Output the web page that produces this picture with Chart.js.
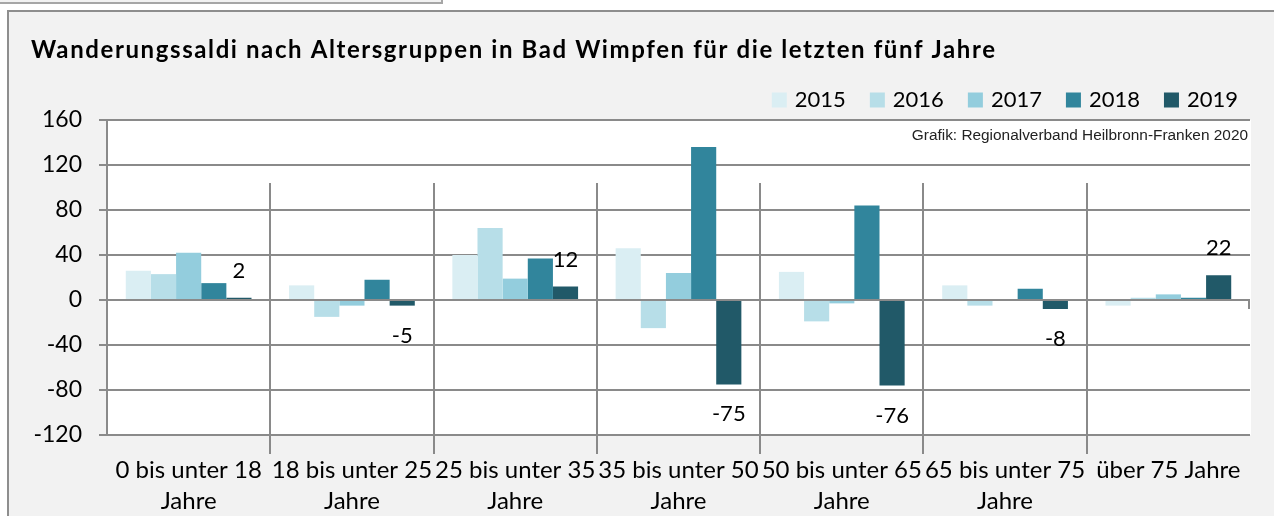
<!DOCTYPE html>
<html>
<head>
<meta charset="utf-8">
<script src="https://cdn.jsdelivr.net/npm/chart.js@4.4.1/dist/chart.umd.min.js"></script>
<style>
  html, body { margin: 0; padding: 0; background: #ffffff; overflow: hidden; }
  #wrap { position: relative; width: 1274px; height: 516px; }
  #topbox { position: absolute; left: -2px; top: -10px; width: 441px; height: 10px; border: 2px solid #a6a6a6; background: #f2f2f2; }
  #frame { position: absolute; left: 7px; top: 10px; width: 1300px; height: 600px; border: 2px solid #8e8e8e; background: #f2f2f2; }
  canvas { position: absolute; left: 0; top: 0; }
</style>
</head>
<body>
<div id="wrap">
  <div id="topbox"></div>
  <div id="frame"></div>
  <canvas id="c" width="1274" height="516"></canvas>
</div>
<script>
const chartTitle = 'Wanderungssaldi nach Altersgruppen in Bad Wimpfen für die letzten fünf Jahre';
const creditText = 'Grafik: Regionalverband Heilbronn-Franken 2020';
const categories = [
  ['0 bis unter 18', 'Jahre'],
  ['18 bis unter 25', 'Jahre'],
  ['25 bis unter 35', 'Jahre'],
  ['35 bis unter 50', 'Jahre'],
  ['50 bis unter 65', 'Jahre'],
  ['65 bis unter 75', 'Jahre'],
  'über 75 Jahre'
];
const seriesNames = ['2015', '2016', '2017', '2018', '2019'];
const values2015 = [26, 13, 40, 46, 25, 13, -5];
const values2016 = [23, -15, 64, -25, -19, -5, 2];
const values2017 = [42, -5, 19, 24, -3, 0, 5];
const values2018 = [15, 18, 37, 136, 84, 10, 2];
const values2019 = [2, -5, 12, -75, -76, -8, 22];
const seriesColors = ['#DAEEF3', '#B7DEE8', '#93CDDD', '#31859C', '#215968'];
const yMin = -120, yMax = 160, yStep = 40;
const labelledSeries = 4;

const FONT = 'Lato, "Open Sans", sans-serif';
const GRID = '#8a8a8a';

const decor = {
  id: 'decor',
  beforeDraw(chart) {
    const a = chart.chartArea, ctx = chart.ctx;
    ctx.save();
    ctx.fillStyle = '#ffffff';
    ctx.fillRect(a.left, a.top, a.right - a.left + 1, a.bottom - a.top);
    ctx.restore();
  },
  beforeDatasetsDraw(chart) {
    const a = chart.chartArea, ctx = chart.ctx, xs = chart.scales.x, ys = chart.scales.y;
    const y0 = ys.getPixelForValue(0);
    ctx.save();
    ctx.strokeStyle = GRID;
    ctx.lineWidth = 2;
    const n = chart.data.labels.length;
    for (let i = 0; i < n - 1; i++) {
      const xb = Math.round((xs.getPixelForValue(i) + xs.getPixelForValue(i + 1)) / 2);
      ctx.beginPath();
      ctx.moveTo(xb, a.top + 63);
      ctx.lineTo(xb, a.bottom + 19);
      ctx.stroke();
    }
    ctx.beginPath();
    ctx.moveTo(a.right - 1, y0);
    ctx.lineTo(a.right - 1, y0 + 9);
    ctx.stroke();
    ctx.restore();
  },
  afterDraw(chart) {
    const ctx = chart.ctx;
    ctx.save();
    // title
    ctx.fillStyle = '#000';
    ctx.font = 'bold 24px ' + FONT;
    ctx.textBaseline = 'middle';
    ctx.textAlign = 'left';
    if ('letterSpacing' in ctx) ctx.letterSpacing = '1.6px';
    ctx.fillText(chartTitle, 31, 50);
    if ('letterSpacing' in ctx) ctx.letterSpacing = '0px';
    // legend (right aligned)
    ctx.font = '22px ' + FONT;
    const box = 15, gapText = 8, gapItem = 24;
    const ds = chart.data.datasets;
    let x = 1238;
    const ly = 100;
    for (let i = ds.length - 1; i >= 0; i--) {
      const w = ctx.measureText(ds[i].label).width;
      const tx = x - w;
      ctx.fillStyle = '#000';
      ctx.fillText(ds[i].label, tx, ly);
      const bx = tx - gapText - box;
      ctx.fillStyle = ds[i].backgroundColor;
      ctx.fillRect(bx, ly - box / 2, box, box);
      x = bx - gapItem;
    }
    // credit
    ctx.font = '15.4px "Liberation Sans", Arial, sans-serif';
    ctx.fillStyle = '#222';
    ctx.textAlign = 'right';
    ctx.fillText(creditText, 1248, 136);
    // data labels for 2019
    ctx.font = '22px ' + FONT;
    ctx.fillStyle = '#000';
    ctx.textAlign = 'center';
    const meta = chart.getDatasetMeta(labelledSeries);
    meta.data.forEach((bar, i) => {
      const v = ds[labelledSeries].data[i];
      const y = v >= 0 ? bar.y - 27 : bar.y + 30;
      ctx.fillText(String(v), bar.x, y);
    });
    ctx.restore();
  }
};

const allValues = [values2015, values2016, values2017, values2018, values2019];
new Chart(document.getElementById('c'), {
  type: 'bar',
  data: {
    labels: categories,
    datasets: seriesNames.map((name, i) => ({
      label: name,
      data: allValues[i],
      backgroundColor: seriesColors[i],
      borderWidth: 0,
      categoryPercentage: 0.77,
      barPercentage: 1.0
    }))
  },
  options: {
    responsive: false,
    animation: false,
    devicePixelRatio: 1,
    layout: { padding: { top: 120, left: 0, right: 24, bottom: 0 } },
    plugins: { legend: { display: false }, title: { display: false }, tooltip: { enabled: false } },
    scales: {
      x: {
        grid: { display: false, drawTicks: false },
        border: { display: false },
        ticks: {
          autoSkip: false, maxRotation: 0, minRotation: 0, padding: 19.5,
          color: '#000', font: { family: FONT, size: 24, lineHeight: 1.3 }
        },
        afterFit(s) { s.height = 81; }
      },
      y: {
        min: yMin, max: yMax,
        ticks: { stepSize: yStep, padding: 17, color: '#000', font: { family: FONT, size: 23 } },
        grid: { color: GRID, lineWidth: 2, tickLength: 8, drawTicks: true },
        border: { display: true, color: GRID, width: 2 },
        afterFit(s) { s.width = 107; }
      }
    }
  },
  plugins: [decor]
});
</script>
</body>
</html>
